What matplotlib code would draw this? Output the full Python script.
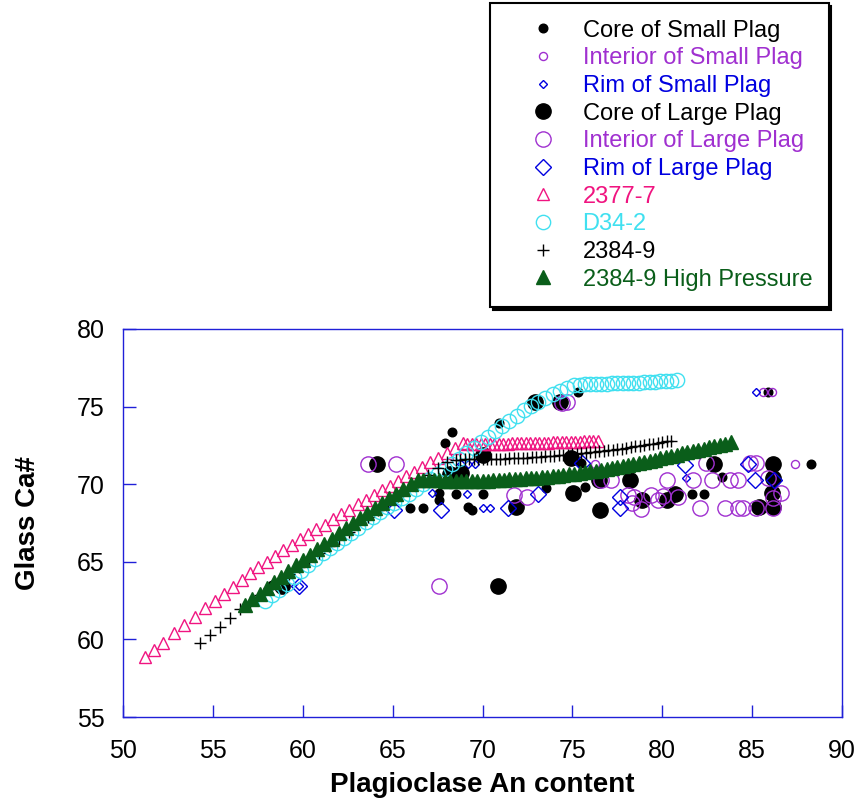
import matplotlib.pyplot as plt

plt.rcParams['font.family'] = ['Liberation Sans', 'DejaVu Sans']

# measured plagioclase An content vs glass Ca#
core_small_an = [68.28, 67.9, 70.93, 65.96, 66.7, 67.6, 67.6, 68.52, 70.04, 69.2, 69.39,
                 73.56, 75.7, 75.3, 83.3, 81.63, 82.3, 88.3, 85.89, 58.3, 75.5]
core_small_ca = [73.38, 72.68, 73.96, 68.45, 68.45, 69.41, 68.98, 69.37, 69.4, 68.55, 68.34,
                 69.73, 69.84, 75.92, 70.44, 69.37, 69.37, 71.3, 75.92, 63.5, 71.35]

int_small_an = [85.61, 86.08, 87.37, 76.25]
int_small_ca = [75.92, 75.92, 71.3, 71.3]

rim_small_an = [85.19, 67.17, 69.15, 68.8, 69.2, 69.6, 70.04, 70.41, 81.31, 59.77]
rim_small_ca = [75.92, 69.41, 69.39, 71.3, 71.3, 71.3, 68.45, 68.48, 70.42, 63.44]

core_large_an = [64.11, 70.86, 72.91, 74.3, 74.9, 71.89, 75.04, 76.53, 76.5, 78.2, 78.9,
                 80.24, 80.7, 82.9, 86.17, 86.1, 86.17, 85.38, 86.17, 70.04, 68.19, 68.8, 58.83]
core_large_ca = [71.28, 63.44, 75.32, 75.32, 71.67, 68.55, 69.41, 68.34, 70.3, 70.27, 68.98,
                 68.98, 69.4, 71.33, 71.33, 69.41, 68.55, 68.55, 70.38, 71.88, 70.65, 70.7, 63.44]

int_large_an = [63.64, 65.18, 67.6, 74.4, 74.7, 71.75, 72.45, 76.6, 77.15, 78.1, 78.45,
                78.3, 78.8, 79.4, 79.75, 80.05, 80.24, 80.88, 81.72, 82.09, 82.46, 82.74,
                83.48, 83.76, 84.22, 84.22, 84.5, 84.87, 85.24, 85.24, 86.17, 86.63, 86.17, 85.89]
int_large_ca = [71.28, 71.28, 63.44, 75.25, 75.3, 69.3, 69.2, 70.27, 70.27, 69.3, 69.2,
                68.77, 68.4, 69.3, 68.98, 69.25, 70.27, 69.2, 70.27, 68.45, 71.35, 70.27,
                68.45, 70.27, 70.27, 68.45, 68.45, 71.35, 71.35, 68.45, 68.45, 69.41, 69.09, 70.38]

rim_large_an = [65.08, 67.69, 59.77, 71.4, 73.07, 75.55, 77.64, 77.64, 81.26, 84.78, 85.15, 86.22]
rim_large_ca = [68.36, 68.36, 63.44, 68.48, 69.39, 71.35, 69.2, 68.45, 71.24, 71.3, 70.3, 70.3]

# model crystallization paths
m2377_an = [51.2, 51.7, 52.2, 52.85, 53.4, 54.0, 54.55, 55.1, 55.6, 56.1,
            56.6, 57.05, 57.5, 58.0, 58.45, 58.9, 59.4, 59.85, 60.3, 60.75,
            61.25, 61.7, 62.15, 62.6, 63.05, 63.5, 63.95, 64.4, 64.85, 65.3,
            65.75, 66.2, 66.65, 67.1, 67.55, 68.0, 68.45, 68.9,
            69.15, 69.4, 69.65, 69.9, 70.15, 70.4, 70.65, 70.9, 71.15, 71.4,
            71.65, 71.9, 72.15, 72.4, 72.65, 72.9, 73.15, 73.4, 73.65, 73.9,
            74.15, 74.4, 74.65, 74.9, 75.15, 75.4, 75.65, 75.9, 76.15, 76.4]
m2377_ca = [58.85, 59.3, 59.8, 60.4, 60.9, 61.45, 62.0, 62.5, 62.95, 63.4,
            63.85, 64.25, 64.65, 65.0, 65.35, 65.75, 66.1, 66.45, 66.8, 67.1,
            67.4, 67.75, 68.05, 68.35, 68.7, 69.0, 69.3, 69.6, 69.9, 70.2,
            70.5, 70.8, 71.1, 71.4, 71.7, 72.0, 72.35, 72.65,
            72.6, 72.6, 72.6, 72.6, 72.6, 72.6, 72.6, 72.62, 72.62, 72.62,
            72.64, 72.64, 72.64, 72.66, 72.66, 72.66, 72.68, 72.68, 72.68, 72.7,
            72.7, 72.7, 72.72, 72.72, 72.74, 72.74, 72.76, 72.76, 72.78, 72.8]

d342_an = [57.9, 58.3, 58.7, 59.1, 59.5, 59.9, 60.3, 60.7, 61.1, 61.5,
           61.9, 62.3, 62.7, 63.1, 63.5, 63.9, 64.3, 64.7, 65.1, 65.5,
           65.9, 66.3, 66.7, 67.1, 67.5, 67.9, 68.3, 68.7, 69.1, 69.5,
           69.9, 70.3, 70.7, 71.1, 71.5, 71.9, 72.3, 72.7, 73.1, 73.5,
           73.9, 74.3, 74.7, 75.1,
           75.4, 75.7, 76.0, 76.3, 76.6, 76.9, 77.2, 77.5, 77.8, 78.1,
           78.4, 78.7, 79.0, 79.3, 79.6, 79.9, 80.2, 80.5, 80.8]
d342_ca = [62.5, 62.85, 63.2, 63.6, 64.0, 64.4, 64.8, 65.2, 65.55, 65.9,
           66.2, 66.55, 66.85, 67.2, 67.55, 67.9, 68.2, 68.5, 68.8, 69.1,
           69.4, 69.7, 70.0, 70.35, 70.65, 71.0, 71.3, 71.65, 72.0, 72.35,
           72.7, 73.05, 73.4, 73.75, 74.1, 74.4, 74.75, 75.05, 75.3, 75.55,
           75.8, 76.0, 76.2, 76.4,
           76.42, 76.44, 76.45, 76.46, 76.47, 76.48, 76.49, 76.5, 76.51, 76.52,
           76.53, 76.54, 76.56, 76.58, 76.6, 76.62, 76.64, 76.67, 76.7]

m2384_an = [54.3, 54.85, 55.4, 55.95, 56.5, 57.05, 57.6, 58.15, 58.7, 59.25,
            59.8, 60.35, 60.9, 61.45, 62.0, 62.55, 63.1, 63.65, 64.2, 64.75,
            65.3, 65.85, 66.4, 66.95, 67.5, 68.0,
            68.5, 68.75, 69.0, 69.25, 69.5, 69.75, 70.0, 70.25, 70.5, 70.75,
            71.0, 71.25, 71.5, 71.75, 72.0, 72.25, 72.5, 72.75, 73.0, 73.25,
            73.5, 73.75, 74.0, 74.25, 74.5, 74.75, 75.0, 75.25, 75.5, 75.75,
            76.0, 76.25, 76.5, 76.75, 77.0, 77.25, 77.5, 77.75, 78.0, 78.25,
            78.5, 78.75, 79.0, 79.25, 79.5, 79.75, 80.0, 80.25, 80.5]
m2384_ca = [59.75, 60.3, 60.82, 61.4, 61.95, 62.4, 62.86, 63.31, 63.77, 64.22,
            64.68, 65.13, 65.59, 66.04, 66.5, 66.95, 67.41, 67.86, 68.32, 68.77,
            69.23, 69.68, 70.14, 70.59, 71.05, 71.45,
            71.55, 71.58, 71.6, 71.6, 71.6, 71.61, 71.61, 71.61, 71.62, 71.63,
            71.64, 71.65, 71.66, 71.67, 71.68, 71.7, 71.71, 71.73, 71.75, 71.77,
            71.79, 71.81, 71.83, 71.85, 71.88, 71.9, 71.93, 71.96, 71.99, 72.02,
            72.05, 72.08, 72.12, 72.15, 72.19, 72.23, 72.26, 72.3, 72.35, 72.39,
            72.43, 72.47, 72.52, 72.57, 72.61, 72.66, 72.71, 72.76, 72.8]

hp_an = [56.8, 57.2, 57.6, 58.0, 58.4, 58.8, 59.2, 59.6, 60.0, 60.4,
         60.8, 61.2, 61.6, 62.0, 62.4, 62.8, 63.2, 63.6, 64.0, 64.4,
         64.8, 65.2, 65.6, 66.0, 66.4,
         66.7, 67.0, 67.3, 67.6, 67.9, 68.2, 68.5, 68.8, 69.1, 69.4,
         69.7, 70.0, 70.3, 70.6, 70.9, 71.2, 71.5, 71.8, 72.1, 72.4,
         72.7, 73.0, 73.3, 73.6, 73.9, 74.2, 74.5, 74.8, 75.1, 75.4,
         75.7, 76.0, 76.3, 76.6, 76.9, 77.2, 77.5, 77.8, 78.1, 78.4,
         78.7, 79.0, 79.3, 79.6, 79.9, 80.2, 80.5, 80.8, 81.1, 81.4,
         81.7, 82.0, 82.3, 82.6, 82.9, 83.2, 83.5, 83.8]
hp_ca = [62.2, 62.58, 62.95, 63.32, 63.69, 64.05, 64.41, 64.77, 65.12, 65.47,
         65.82, 66.16, 66.5, 66.84, 67.17, 67.5, 67.82, 68.14, 68.46, 68.77,
         69.08, 69.39, 69.69, 69.99, 70.28,
         70.3, 70.28, 70.26, 70.24, 70.22, 70.21, 70.2, 70.2, 70.2, 70.2,
         70.21, 70.22, 70.23, 70.25, 70.27, 70.29, 70.31, 70.33, 70.35, 70.37,
         70.4, 70.43, 70.46, 70.49, 70.52, 70.56, 70.6, 70.64, 70.68, 70.72,
         70.77, 70.82, 70.87, 70.92, 70.97, 71.03, 71.09, 71.15, 71.21, 71.28,
         71.35, 71.42, 71.5, 71.58, 71.66, 71.74, 71.82, 71.9, 71.98, 72.06,
         72.14, 72.22, 72.3, 72.38, 72.46, 72.54, 72.62, 72.7]

purple = '#A030D0'
blue = '#0000E0'
pink = '#F01480'
cyan = '#40E0F0'
green = '#0A5E1A'
frame = '#2020D8'

fig = plt.figure(figsize=(8.59, 8.01), dpi=100)
ax = fig.add_axes([123 / 859, 1 - 717 / 801, (842 - 123) / 859, (717 - 329) / 801])

ax.plot(core_small_an, core_small_ca, 'o', ls='none', ms=6.2, color='black',
        label='Core of Small Plag')
ax.plot(int_small_an, int_small_ca, 'o', ls='none', ms=5.8, mfc='none', mec=purple,
        mew=1.0, label='Interior of Small Plag')
ax.plot(rim_small_an, rim_small_ca, 'D', ls='none', ms=4.3, mfc='none', mec=blue,
        mew=1.0, label='Rim of Small Plag')
ax.plot(core_large_an, core_large_ca, 'o', ls='none', ms=11, color='black',
        label='Core of Large Plag')
ax.plot(int_large_an, int_large_ca, 'o', ls='none', ms=11, mfc='none', mec=purple,
        mew=1.0, label='Interior of Large Plag')
ax.plot(rim_large_an, rim_large_ca, 'D', ls='none', ms=7.8, mfc='none', mec=blue,
        mew=1.0, label='Rim of Large Plag')
ax.plot(m2377_an, m2377_ca, '^', ls='none', ms=8.5, mfc='none', mec=pink,
        mew=1.0, label='2377-7')
ax.plot(d342_an, d342_ca, 'o', ls='none', ms=10.3, mfc='none', mec=cyan,
        mew=1.0, label='D34-2')
ax.plot(m2384_an, m2384_ca, '+', ls='none', ms=9, color='black',
        mew=1.0, label='2384-9')
ax.plot(hp_an, hp_ca, '^', ls='none', ms=9.8, color=green,
        label='2384-9 High Pressure')

ax.set_xlim(50, 90)
ax.set_ylim(55, 80)
ax.set_xticks(range(50, 91, 5))
ax.set_yticks(range(55, 81, 5))
for s in ax.spines.values():
    s.set_color(frame)
    s.set_linewidth(1.0)
ax.tick_params(direction='in', length=9, width=1.0, color=frame, labelsize=18,
               labelcolor='black')
ax.tick_params(axis='x', pad=16)
ax.tick_params(axis='y', pad=13)
ax.set_xlabel('Plagioclase An content', fontsize=20, fontweight='bold', labelpad=6)
ax.set_ylabel('Glass Ca#', fontsize=20, fontweight='bold', labelpad=26)

label_colors = ['black', purple, blue, 'black', purple, blue, pink, cyan, 'black', green]
leg = ax.legend(loc='upper left', bbox_to_anchor=(490 / 859, 1 - 3 / 801),
                bbox_transform=fig.transFigure, borderaxespad=0, fontsize=17,
                numpoints=1, frameon=True, fancybox=False,
                shadow={'color': 'black', 'alpha': 1},
                borderpad=0.7, labelspacing=0.24, handlelength=3.1,
                handletextpad=0.12, labelcolor=label_colors)
leg.get_frame().set_edgecolor('black')
leg.get_frame().set_linewidth(1.5)

fig.savefig('out.png', dpi=100)
